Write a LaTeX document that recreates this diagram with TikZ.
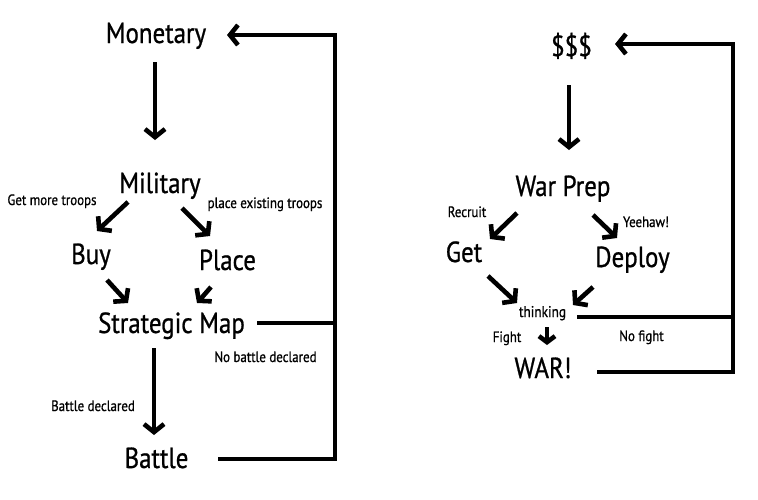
\documentclass[tikz,border=0pt]{standalone}
\usepackage{fontspec}
\setmainfont{PT Sans}[FakeStretch=0.86, FakeBold=0.8]
\usepackage{tikz}
\usetikzlibrary{arrows.meta, positioning, calc}

\begin{document}
\begin{tikzpicture}[
    x=1pt, y=-1pt,
    word/.style={anchor=base, inner sep=0pt, font=\fontsize{29}{30}\selectfont},
    lbl/.style={anchor=base, inner sep=0pt, font=\fontsize{15}{16}\selectfont},
    arr/.style={-{Straight Barb[length=8pt, width=20pt]}, line width=4.6pt},
    wire/.style={line width=4.6pt}
]
  \useasboundingbox (0,0) rectangle (758,499);

  % Left chart
  \node[word] (mon) at (156,43) {Monetary};
  \node[word] (mil) at (160,193) {Military};
  \node[word] (buy) at (91,264) {Buy};
  \node[word] (place) at (227.5,270) {Place};
  \node[word] (smap) at (171.5,333) {Strategic Map};
  \node[word] (battle) at (156.5,468) {Battle};

  \node[lbl] (more) at (52,205) {Get more troops};
  \node[lbl] (exist) at (265,208) {place existing troops};
  \node[lbl] (nobattle) at (265.5,362) {No battle declared};
  \node[lbl] (declared) at (93,411) {Battle declared};

  \coordinate (lc1) at (335,35);
  \coordinate (lc2) at (335,323);
  \coordinate (lc3) at (335,459);

  \draw[arr] ([shift={(-1,19)}]mon.base) -- ([shift={(-5,-53)}]mil.base);
  \draw[arr] ([shift={(-32,9)}]mil.base) -- ([shift={(6,-33)}]buy.base);
  \draw[arr] ([shift={(22,15)}]mil.base) -- ([shift={(-17.5,-34)}]place.base);
  \draw[arr] ([shift={(16,16)}]buy.base) -- ([shift={(-43.5,-30)}]smap.base);
  \draw[arr] ([shift={(-16.5,17)}]place.base) -- ([shift={(25.5,-30)}]smap.base);
  \draw[arr] ([shift={(-17.5,15)}]smap.base) -- ([shift={(-2.5,-33)}]battle.base);
  \draw[wire] ([shift={(85.5,-10)}]smap.base) -- (lc2);
  \draw[arr] ([shift={(61.5,-9)}]battle.base) -- (lc3) -- (lc1) -- ([shift={(71,-8)}]mon.base);

  % Right chart
  \node[word] (cash) at (571.5,56) {\$\$\$};
  \node[word] (prep) at (563,196) {War Prep};
  \node[word] (get) at (464,262) {Get};
  \node[word] (deploy) at (632.5,267) {Deploy};
  \node[lbl, font=\fontsize{15.5}{16}\selectfont] (think) at (542.5,317) {thinking};
  \node[word] (war) at (543,378) {WAR!};

  \node[lbl] (recruit) at (467,217) {Recruit};
  \node[lbl] (yeehaw) at (646,227) {Yeehaw!};
  \node[lbl] (fight) at (507,342) {Fight};
  \node[lbl] (nofight) at (641.5,341) {No fight};

  \coordinate (rc1) at (733,44);
  \coordinate (rc2) at (733,317);
  \coordinate (rc3) at (733,372);

  \draw[arr] ([shift={(-2.5,29)}]cash.base) -- ([shift={(6,-46)}]prep.base);
  \draw[arr] ([shift={(-46,17)}]prep.base) -- ([shift={(26,-23)}]get.base);
  \draw[arr] ([shift={(30,19)}]prep.base) -- ([shift={(-15.5,-29)}]deploy.base);
  \draw[arr] ([shift={(24,14)}]get.base) -- ([shift={(-25.5,-14)}]think.base);
  \draw[arr] ([shift={(-39.5,20)}]deploy.base) -- ([shift={(30.5,-12)}]think.base);
  \draw[arr, -{Straight Barb[length=6pt, width=16pt]}] ([shift={(4.5,10)}]think.base) -- ([shift={(4,-33)}]war.base);
  \draw[wire] ([shift={(34.5,0)}]think.base) -- (rc2);
  \draw[arr] ([shift={(54,-6)}]war.base) -- (rc3) -- (rc1) -- ([shift={(43.5,-12)}]cash.base);
\end{tikzpicture}
\end{document}
